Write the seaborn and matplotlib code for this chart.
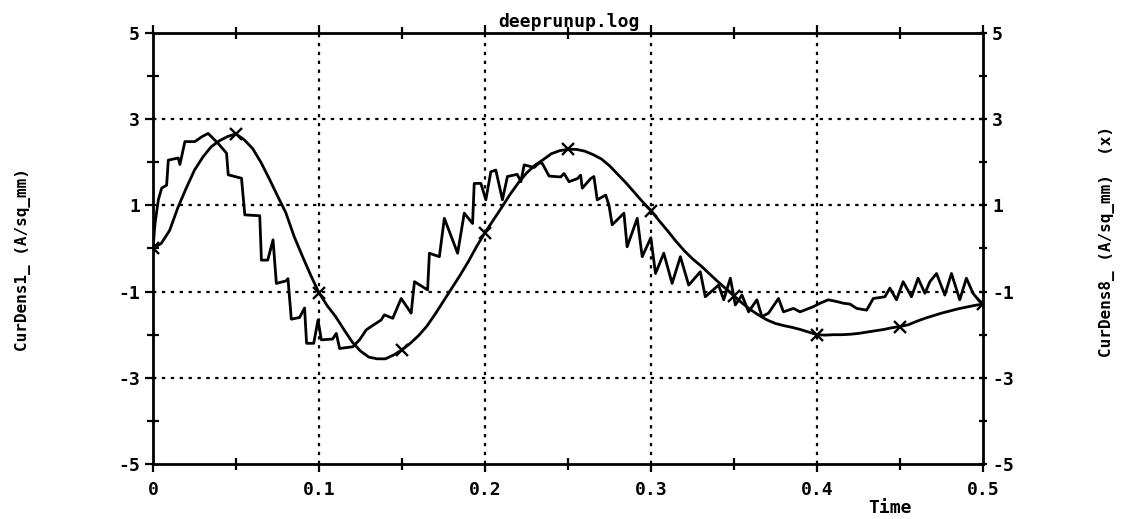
import numpy as np
import pandas as pd
import matplotlib
matplotlib.use("Agg")
import matplotlib.pyplot as plt
from matplotlib.ticker import MultipleLocator
import seaborn as sns

# CurDens8 (smooth trace, marked with x every 0.05 s)
time8 = np.round(np.arange(0, 0.5001, 0.005), 3)
curdens8 = [
    0.00, 0.12, 0.42, 0.95, 1.40, 1.82, 2.12, 2.36, 2.50, 2.60,
    2.66, 2.52, 2.32, 2.00, 1.62, 1.22, 0.83, 0.28, -0.18, -0.62,
    -1.03, -1.33, -1.58, -1.88, -2.17, -2.38, -2.52, -2.56, -2.56, -2.47,
    -2.35, -2.20, -2.02, -1.80, -1.52, -1.22, -0.92, -0.62, -0.30, 0.05,
    0.37, 0.66, 0.95, 1.25, 1.52, 1.75, 1.93, 2.06, 2.20, 2.27,
    2.30, 2.30, 2.26, 2.18, 2.08, 1.92, 1.72, 1.52, 1.30, 1.08,
    0.88, 0.64, 0.41, 0.17, -0.05, -0.24, -0.40, -0.58, -0.76, -0.93,
    -1.10, -1.27, -1.42, -1.55, -1.66, -1.74, -1.79, -1.83, -1.88, -1.94,
    -2.00, -2.01, -2.00, -2.00, -1.99, -1.97, -1.94, -1.91, -1.88, -1.84,
    -1.81, -1.77, -1.69, -1.62, -1.56, -1.50, -1.45, -1.40, -1.36, -1.32,
    -1.29,
]

# CurDens1 (ripple trace)
time1 = [
    0.0000, 0.0012, 0.0032, 0.0052, 0.0082, 0.0092, 0.0152, 0.0162, 0.0192, 0.0252,
    0.0293, 0.0332, 0.0392, 0.0443, 0.0453, 0.0533, 0.0553, 0.0643, 0.0653, 0.0691,
    0.0723, 0.0743, 0.0803, 0.0813, 0.0833, 0.0883, 0.0913, 0.0925, 0.0968, 0.0994,
    0.1014, 0.1082, 0.1104, 0.1124, 0.1204, 0.1244, 0.1284, 0.1314, 0.1374, 0.1394,
    0.1444, 0.1495, 0.1555, 0.1575, 0.1654, 0.1665, 0.1725, 0.1755, 0.1835, 0.1875,
    0.1925, 0.1935, 0.1975, 0.2005, 0.2035, 0.2065, 0.2105, 0.2135, 0.2194, 0.2216,
    0.2236, 0.2296, 0.2326, 0.2344, 0.2386, 0.2456, 0.2476, 0.2506, 0.2556, 0.2576,
    0.2586, 0.2636, 0.2656, 0.2676, 0.2727, 0.2747, 0.2766, 0.2837, 0.2856, 0.2917,
    0.2947, 0.2999, 0.3027, 0.3077, 0.3127, 0.3177, 0.3227, 0.3297, 0.3327, 0.3407,
    0.3438, 0.3478, 0.3508, 0.3548, 0.3588, 0.3638, 0.3668, 0.3708, 0.3768, 0.3798,
    0.3858, 0.3898, 0.3978, 0.4018, 0.4068, 0.4118, 0.4159, 0.4199, 0.4239, 0.4299,
    0.4339, 0.4409, 0.4439, 0.4479, 0.4519, 0.4569, 0.4609, 0.4650, 0.4680, 0.4720,
    0.4770, 0.4810, 0.4860, 0.4900, 0.4940, 0.4980, 0.5000,
]
curdens1 = [
    0.00, 0.58, 1.13, 1.40, 1.47, 2.05, 2.10, 1.95, 2.48, 2.48,
    2.59, 2.67, 2.44, 2.21, 1.71, 1.63, 0.78, 0.76, -0.27, -0.27,
    0.20, -0.81, -0.75, -0.70, -1.64, -1.60, -1.38, -2.20, -2.20, -1.66,
    -2.12, -2.10, -1.97, -2.32, -2.28, -2.12, -1.89, -1.81, -1.66, -1.54,
    -1.62, -1.16, -1.50, -0.77, -0.96, -0.11, -0.19, 0.70, -0.11, 0.82,
    0.58, 1.51, 1.51, 1.13, 1.78, 1.82, 1.13, 1.67, 1.72, 1.55,
    1.94, 1.88, 1.98, 1.98, 1.68, 1.66, 1.74, 1.55, 1.62, 1.70,
    1.40, 1.62, 1.67, 1.13, 1.24, 1.00, 0.55, 0.82, 0.04, 0.70,
    -0.19, 0.25, -0.58, -0.11, -0.81, -0.19, -0.85, -0.54, -1.12, -0.85,
    -1.19, -0.69, -1.31, -1.08, -1.47, -1.19, -1.58, -1.50, -1.16, -1.47,
    -1.39, -1.47, -1.35, -1.27, -1.19, -1.23, -1.27, -1.29, -1.39, -1.43,
    -1.16, -1.12, -0.92, -1.19, -0.77, -1.12, -0.69, -1.04, -0.77, -0.58,
    -1.08, -0.58, -1.19, -0.69, -1.04, -1.23, -1.25,
]

x_ticks = [0, 0.1, 0.2, 0.3, 0.4, 0.5]
x_labels = ["0", "0.1", "0.2", "0.3", "0.4", "0.5"]
y_ticks = [-5, -3, -1, 1, 3, 5]

df1 = pd.DataFrame({"Time": time1, "CurDens1": curdens1})
df8 = pd.DataFrame({"Time": time8, "CurDens8": curdens8})

sns.set_theme(style="white")
plt.rcParams["font.family"] = ["DejaVu Sans Mono", "DejaVu Sans"]
plt.rcParams["font.weight"] = "bold"
plt.rcParams["text.color"] = "black"

fig = plt.figure(figsize=(11.26, 5.19), dpi=100)
ax = fig.add_axes([0.1359, 0.106, 0.7371, 0.8304])

sns.lineplot(data=df1, x="Time", y="CurDens1", ax=ax, color="black",
             linewidth=2.0, estimator=None, sort=False)
sns.lineplot(data=df8, x="Time", y="CurDens8", ax=ax, color="black",
             linewidth=2.0, estimator=None, marker="x", markersize=8,
             markeredgewidth=1.7, markeredgecolor="black",
             markerfacecolor="black", markevery=10)

ax.set_xlim(0, 0.5)
ax.set_ylim(-5, 5)

# dotted grid at inner major ticks
for gx in x_ticks[1:-1]:
    ax.axvline(gx, color="black", linestyle=(0, (1.5, 2.5)), linewidth=1.6, zorder=0)
for gy in y_ticks[1:-1]:
    ax.axhline(gy, color="black", linestyle=(0, (1.5, 2.5)), linewidth=1.6, zorder=0)

for s in ax.spines.values():
    s.set_visible(True)
    s.set_color("black")
    s.set_linewidth(2.0)

ax.set_xticks(x_ticks)
ax.set_xticklabels(x_labels)
ax.xaxis.set_minor_locator(MultipleLocator(0.05))
ax.set_yticks(y_ticks)
ax.set_yticklabels([str(v) for v in y_ticks])
ax.yaxis.set_minor_locator(MultipleLocator(1))
ax.tick_params(axis="both", which="major", labelsize=13, length=6, width=1.6,
               color="black", labelcolor="black", direction="out")
ax.tick_params(axis="both", which="minor", length=8, width=1.6, color="black",
               direction="inout")
ax.tick_params(axis="x", which="both", top=True, bottom=True)
ax.tick_params(axis="x", which="major", pad=6)
ax.set_xlabel("")
ax.set_ylabel("")

ax2 = ax.twinx()
ax2.set_ylim(-5, 5)
ax2.set_yticks(y_ticks)
ax2.set_yticklabels([str(v) for v in y_ticks])
ax2.yaxis.set_minor_locator(MultipleLocator(1))
ax2.tick_params(axis="y", which="major", labelsize=13, length=6, width=1.6,
                color="black", labelcolor="black", direction="inout")
ax2.tick_params(axis="y", which="minor", length=6, width=1.6, color="black",
                direction="inout")
for s in ax2.spines.values():
    s.set_visible(False)
ax2.grid(False)

fig.text(0.505, 0.957, "deeprunup.log", ha="center", va="center",
         fontsize=13, fontweight="bold", color="black")
fig.text(0.79, 0.022, "Time", ha="center", va="center",
         fontsize=13, fontweight="bold", color="black")
fig.text(0.020, 0.50, "CurDens1_ (A/sq_mm)", rotation=90, ha="center",
         va="center", fontsize=11.5, fontweight="bold", color="black")
fig.text(0.983, 0.535, "CurDens8_ (A/sq_mm)  (x)", rotation=90, ha="center",
         va="center", fontsize=11.5, fontweight="bold", color="black")

fig.savefig("out.png", dpi=100)
